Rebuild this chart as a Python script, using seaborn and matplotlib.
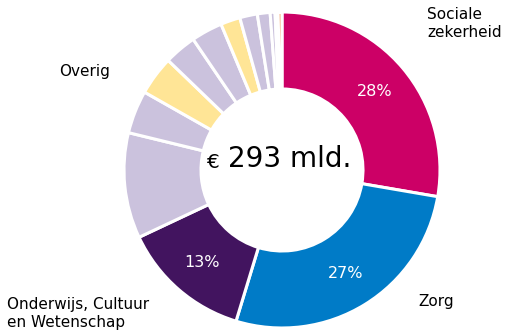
import matplotlib
matplotlib.use("Agg")
import matplotlib.pyplot as plt
import seaborn as sns

sns.set_style("white")
plt.rcParams["font.family"] = ["DejaVu Sans"]

# Budget shares (percent), clockwise from the top
categories = ["Sociale zekerheid", "Zorg", "Onderwijs, Cultuur en Wetenschap",
              "Overig 1", "Overig 2", "Overig 3", "Overig 4", "Overig 5",
              "Overig 6", "Overig 7", "Overig 8", "Overig 9", "Overig 10", "Overig 11"]
shares = [27.7, 27.0, 13.3, 10.8, 4.4, 4.0, 3.3, 3.2, 2.0, 1.8, 1.3, 0.5, 0.3, 0.4]

magenta, blue, purple = "#CC0066", "#007BC7", "#42145F"
lav, yel, ora = "#CBC2DD", "#FFE596", "#F2A26A"
colors = [magenta, blue, purple, lav, lav, yel, lav, lav, yel, lav, lav, lav, lav, ora]

total_label = "293 mld."

fig = plt.figure(figsize=(5.08, 3.36), dpi=100)
R_px, cx, cy = 158, 282, 170
W, H = 508, 336
ax = fig.add_axes([(cx - R_px) / W, (H - cy - R_px) / H, 2 * R_px / W, 2 * R_px / H])

wedges, texts, autotexts = ax.pie(
    shares, colors=colors, startangle=90, counterclock=False,
    wedgeprops=dict(width=1 - 81 / 158, edgecolor="white", linewidth=2.2),
    autopct=lambda p: f"{p:.0f}%" if p > 12 else "",
    pctdistance=0.77,
    textprops=dict(color="white", fontsize=11.5),
)
ax.set_xlim(-1, 1)
ax.set_ylim(-1, 1)
ax.set_aspect("auto")
ax.axis("off")


def ftext(x, y, s, size=11, **kw):
    fig.text(x / W, 1 - y / H, s, fontsize=size, color="black", **kw)


# centre total
ftext(206, 162, "€", size=14.5, va="center", ha="left")
ftext(228, 159, total_label, size=20, va="center", ha="left")

# outer category labels
ftext(427, 7, "Sociale\nzekerheid", va="top", linespacing=1.25)
ftext(418, 294, "Zorg", va="top")
ftext(7, 297, "Onderwijs, Cultuur\nen Wetenschap", va="top", linespacing=1.25)
ftext(59, 64, "Overig", va="top")

fig.savefig("out.png", dpi=100)
